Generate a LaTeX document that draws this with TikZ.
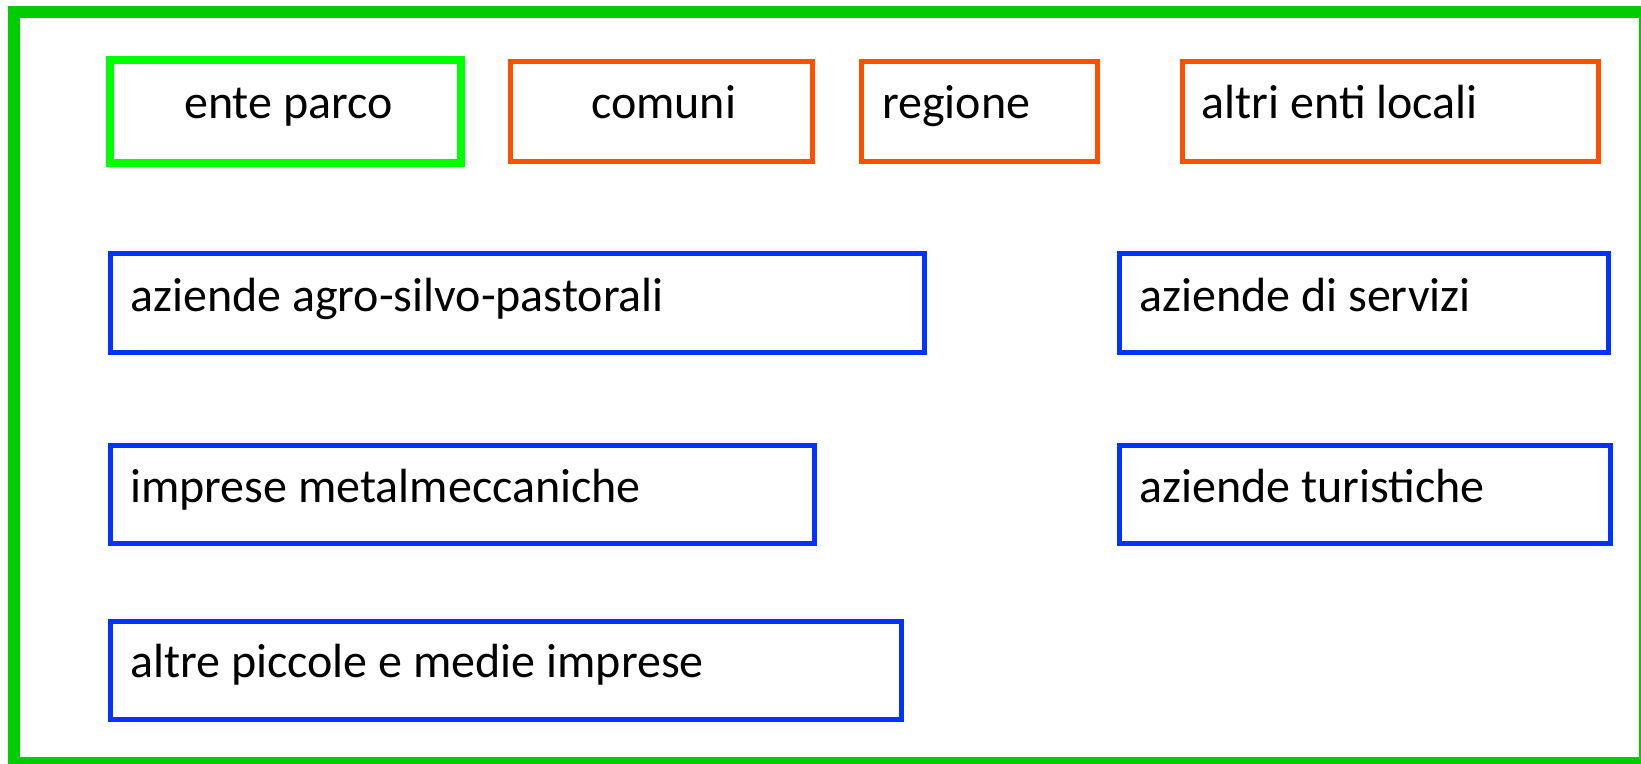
\documentclass[tikz,border=0pt]{standalone}
\usepackage{fontspec}
\setmainfont{Carlito}
\definecolor{frameg}{RGB}{0,204,0}
\definecolor{parcog}{RGB}{0,255,0}
\definecolor{enteor}{RGB}{255,80,0}
\definecolor{azblue}{RGB}{0,51,255}
\begin{document}
\begin{tikzpicture}[x=1pt,y=-1pt,
  boxbase/.style={draw, rectangle, inner sep=0pt},
  parcobox/.style={boxbase, draw=parcog, line width=8pt},
  entebox/.style={boxbase, draw=enteor, line width=5.5pt},
  azbox/.style={boxbase, draw=azblue, line width=5.5pt},
  lbl/.style={inner sep=0pt, anchor=base west, font=\fontsize{48}{56}\selectfont}]
\useasboundingbox (0,0) rectangle (1641,763);
\clip (0,0) rectangle (1641,763);
\fill[white] (0,0) rectangle (1641,763);
\draw[frameg, line width=12pt] (13.7,12) rectangle (1645,763);
% row 1
\node[parcobox, minimum width=351.3pt, minimum height=103.3pt] (ep) at (285.65,111.65) {};
\node[entebox, minimum width=302pt, minimum height=100pt] (co) at (661.5,111.5) {};
\node[entebox, minimum width=236pt, minimum height=100pt] (re) at (979.5,111.5) {};
\node[entebox, minimum width=416pt, minimum height=100pt] (al) at (1390.5,111.5) {};
\node[lbl] (ept) at (184,118) {ente parco};
\node[lbl] (cot) at (591,118) {comuni};
\node[lbl] (ret) at (882,118) {regione};
\node[lbl] (alt) at (1201.5,118) {altri enti locali};
% blue boxes
\node[azbox, minimum width=814pt, minimum height=99pt] (ag) at (517.5,303) {};
\node[azbox, minimum width=489pt, minimum height=99pt] (se) at (1364,303) {};
\node[azbox, minimum width=704pt, minimum height=98pt] (me) at (462.5,494.5) {};
\node[azbox, minimum width=491pt, minimum height=98pt] (tu) at (1365,494.5) {};
\node[azbox, minimum width=791pt, minimum height=98pt] (pm) at (506,670.5) {};
\node[lbl] (agt) at (130,311) {aziende agro-silvo-pastorali};
\node[lbl] (set) at (1139,311) {aziende di servizi};
\node[lbl] (met) at (130,502) {imprese metalmeccaniche};
\node[lbl] (tut) at (1139,502) {aziende turistiche};
\node[lbl] (pmt) at (130,677) {altre piccole e medie imprese};
\end{tikzpicture}
\end{document}
